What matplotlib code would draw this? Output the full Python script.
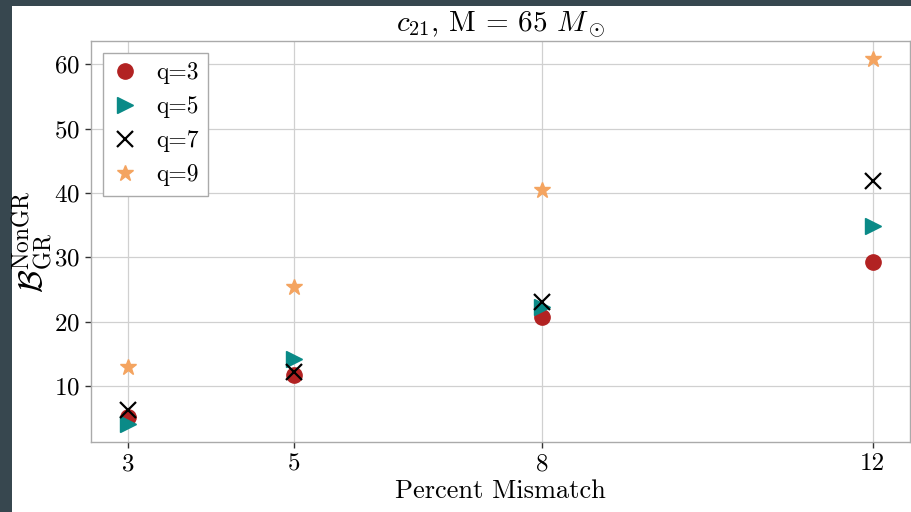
import matplotlib
matplotlib.use("Agg")
import matplotlib.pyplot as plt
from matplotlib.patches import Rectangle

plt.rcParams["font.family"] = "serif"
plt.rcParams["font.serif"] = ["cmr10", "DejaVu Serif"]
plt.rcParams["mathtext.fontset"] = "cm"
plt.rcParams["axes.formatter.use_mathtext"] = True

mismatch = [3, 5, 8, 12]
q3 = [5.2, 11.7, 20.7, 29.3]
q5 = [4.1, 14.1, 22.3, 34.8]
q7 = [6.3, 12.2, 23.1, 41.8]
q9 = [12.9, 25.4, 40.5, 60.8]

fig = plt.figure(figsize=(9.12, 5.12), dpi=100)
fig.patch.set_facecolor("white")
# dark frame along the left and top edges
fig.patches.append(Rectangle((0, 0), 12 / 912, 1, transform=fig.transFigure,
                             facecolor="#37474f", edgecolor="none", zorder=-1))
fig.patches.append(Rectangle((0, 1 - 6 / 512), 1, 6 / 512, transform=fig.transFigure,
                             facecolor="#37474f", edgecolor="none", zorder=-1))

ax = fig.add_axes([91 / 912, 1 - 442 / 512, 819 / 912, 401 / 512])

ax.plot(mismatch, q3, "o", color="#b22222", ms=11, ls="none", label="q=3")
ax.plot(mismatch, q5, ">", color="#0a8a87", ms=11, ls="none", label="q=5")
ax.plot(mismatch, q7, "x", color="black", ms=11, mew=1.6, ls="none", label="q=7")
ax.plot(mismatch, q9, "*", color="#f4a460", ms=12, ls="none", label="q=9")

ax.set_xticks(mismatch)
ax.set_xticklabels([str(m) for m in mismatch])
ax.set_yticks([10, 20, 30, 40, 50, 60])
ax.tick_params(axis="both", labelsize=18, length=4, width=1, color="#333333", pad=4)
ax.grid(True, color="#d0d0d0", linewidth=0.9)
ax.set_axisbelow(True)
for s in ax.spines.values():
    s.set_color("#aaaaaa")
    s.set_linewidth(1.0)

ax.set_title(r"$c_{21}$, M = 65 $M_\odot$", fontsize=21, pad=3)
ax.set_xlabel("Percent Mismatch", fontsize=19, labelpad=3)
ax.set_ylabel(r"$\mathcal{B}^{\rm NonGR}_{\rm GR}$", fontsize=24, labelpad=-1)

leg = ax.legend(loc="upper left", fontsize=17, fancybox=False, framealpha=1,
                edgecolor="#aaaaaa", handlelength=1.07, handletextpad=0.78,
                borderpad=0.4, labelspacing=0.5)

fig.savefig("out.png", dpi=100)
